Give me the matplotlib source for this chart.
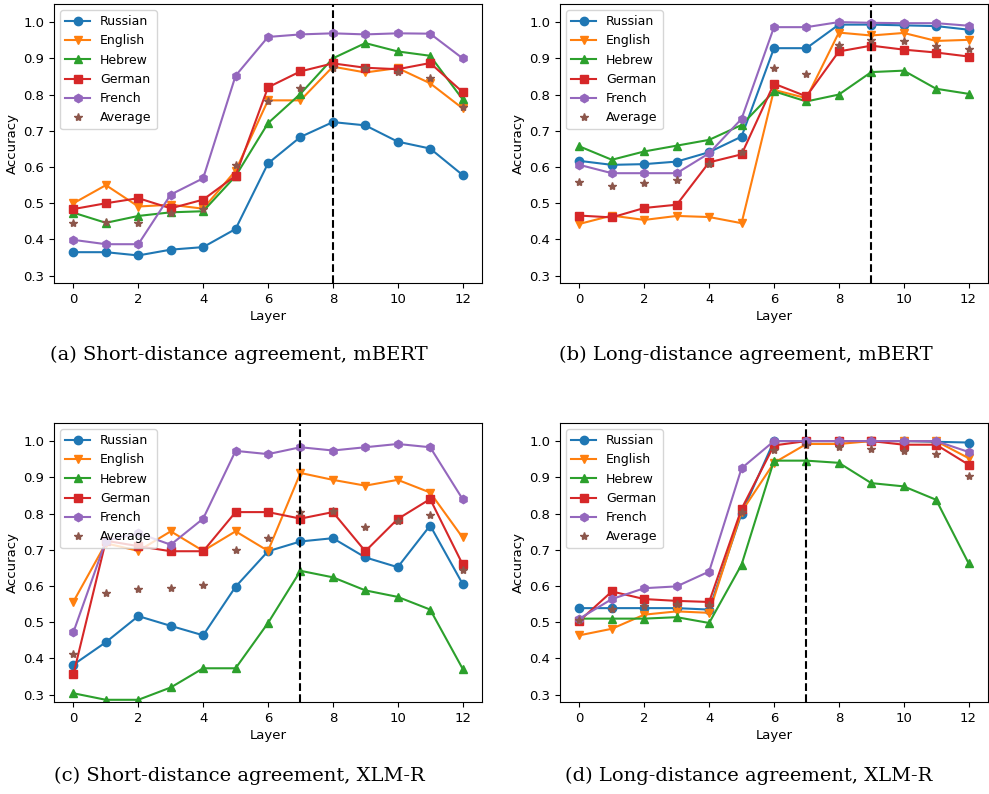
import matplotlib
matplotlib.use("Agg")
import matplotlib.pyplot as plt
import numpy as np

layers = np.arange(13)
languages = ['Russian', 'English', 'Hebrew', 'German', 'French']

# (a) short-distance agreement, mBERT
mbert_short_russian = [0.365, 0.365, 0.356, 0.372, 0.379, 0.429, 0.610, 0.683, 0.724, 0.715, 0.670, 0.651, 0.578]
mbert_short_english = [0.500, 0.550, 0.491, 0.496, 0.485, 0.590, 0.784, 0.784, 0.877, 0.861, 0.873, 0.831, 0.762]
mbert_short_hebrew = [0.474, 0.446, 0.465, 0.475, 0.478, 0.575, 0.721, 0.802, 0.900, 0.942, 0.919, 0.907, 0.787]
mbert_short_german = [0.484, 0.500, 0.514, 0.486, 0.510, 0.576, 0.820, 0.864, 0.886, 0.874, 0.870, 0.887, 0.807]
mbert_short_french = [0.399, 0.387, 0.387, 0.524, 0.569, 0.852, 0.959, 0.966, 0.969, 0.966, 0.969, 0.968, 0.900]
mbert_short_average = [0.445, 0.448, 0.445, 0.474, 0.485, 0.605, 0.781, 0.819, 0.873, 0.872, 0.863, 0.847, 0.767]

# (b) long-distance agreement, mBERT
mbert_long_russian = [0.617, 0.606, 0.608, 0.615, 0.641, 0.684, 0.928, 0.928, 0.993, 0.993, 0.991, 0.989, 0.979]
mbert_long_english = [0.443, 0.466, 0.454, 0.465, 0.462, 0.445, 0.813, 0.790, 0.971, 0.963, 0.970, 0.948, 0.951]
mbert_long_hebrew = [0.657, 0.620, 0.643, 0.659, 0.675, 0.716, 0.809, 0.781, 0.800, 0.862, 0.866, 0.816, 0.802]
mbert_long_german = [0.466, 0.461, 0.487, 0.496, 0.613, 0.635, 0.830, 0.795, 0.919, 0.935, 0.924, 0.916, 0.905]
mbert_long_french = [0.606, 0.583, 0.583, 0.583, 0.638, 0.733, 0.986, 0.986, 1.000, 0.998, 0.997, 0.997, 0.990]
mbert_long_average = [0.558, 0.548, 0.556, 0.563, 0.608, 0.642, 0.873, 0.857, 0.937, 0.951, 0.949, 0.935, 0.925]

# (c) short-distance agreement, XLM-R
xlmr_short_russian = [0.383, 0.445, 0.517, 0.490, 0.464, 0.598, 0.696, 0.723, 0.732, 0.679, 0.652, 0.767, 0.606]
xlmr_short_english = [0.557, 0.718, 0.697, 0.751, 0.697, 0.751, 0.697, 0.912, 0.893, 0.877, 0.893, 0.858, 0.734]
xlmr_short_hebrew = [0.304, 0.286, 0.286, 0.320, 0.373, 0.373, 0.498, 0.642, 0.624, 0.588, 0.570, 0.535, 0.372]
xlmr_short_german = [0.357, 0.725, 0.710, 0.696, 0.696, 0.804, 0.804, 0.786, 0.804, 0.696, 0.785, 0.840, 0.660]
xlmr_short_french = [0.473, 0.725, 0.746, 0.714, 0.786, 0.973, 0.964, 0.983, 0.974, 0.983, 0.992, 0.983, 0.840]
xlmr_short_average = [0.413, 0.580, 0.592, 0.594, 0.603, 0.700, 0.732, 0.804, 0.806, 0.764, 0.780, 0.797, 0.643]

# (d) long-distance agreement, XLM-R
xlmr_long_russian = [0.539, 0.539, 0.539, 0.539, 0.535, 0.800, 1.000, 1.000, 1.000, 1.000, 1.000, 0.998, 0.996]
xlmr_long_english = [0.464, 0.482, 0.521, 0.530, 0.526, 0.805, 0.940, 0.992, 0.992, 1.000, 1.000, 1.000, 0.953]
xlmr_long_hebrew = [0.510, 0.510, 0.510, 0.514, 0.498, 0.659, 0.946, 0.946, 0.940, 0.884, 0.875, 0.838, 0.663]
xlmr_long_german = [0.504, 0.585, 0.564, 0.559, 0.556, 0.813, 0.988, 1.000, 1.000, 1.000, 0.990, 0.990, 0.935]
xlmr_long_french = [0.510, 0.564, 0.594, 0.599, 0.640, 0.925, 1.000, 1.000, 1.000, 1.000, 1.000, 1.000, 0.970]
xlmr_long_average = [0.505, 0.536, 0.544, 0.550, 0.548, 0.805, 0.976, 0.988, 0.985, 0.978, 0.973, 0.964, 0.904]

# layer marked with the dashed line in each panel
best_layer = [8, 9, 7, 7]

captions = ['(a) Short-distance agreement, mBERT',
            '(b) Long-distance agreement, mBERT',
            '(c) Short-distance agreement, XLM-R',
            '(d) Long-distance agreement, XLM-R']

panels = [
    [mbert_short_russian, mbert_short_english, mbert_short_hebrew, mbert_short_german, mbert_short_french, mbert_short_average],
    [mbert_long_russian, mbert_long_english, mbert_long_hebrew, mbert_long_german, mbert_long_french, mbert_long_average],
    [xlmr_short_russian, xlmr_short_english, xlmr_short_hebrew, xlmr_short_german, xlmr_short_french, xlmr_short_average],
    [xlmr_long_russian, xlmr_long_english, xlmr_long_hebrew, xlmr_long_german, xlmr_long_french, xlmr_long_average],
]

colors = ['tab:blue', 'tab:orange', 'tab:green', 'tab:red', 'tab:purple']
markers = ['o', 'v', '^', 's', 'h']

plt.rcParams['font.size'] = 9.5

fig = plt.figure(figsize=(9.89, 7.94), dpi=100)

# axes boxes in figure fractions: left, bottom, width, height
boxes = [
    [0.0546, 0.6436, 0.4328, 0.3514],
    [0.5662, 0.6436, 0.4328, 0.3514],
    [0.0546, 0.1159, 0.4328, 0.3514],
    [0.5662, 0.1159, 0.4328, 0.3514],
]
caption_pos = [(0.242, 0.553), (0.754, 0.553), (0.242, 0.023), (0.757, 0.023)]

for i, series in enumerate(panels):
    ax = fig.add_axes(boxes[i])
    for j, lang in enumerate(languages):
        ax.plot(layers, series[j], marker=markers[j], color=colors[j], label=lang)
    ax.plot(layers, series[5], '*', color='tab:brown', label='Average')
    ax.axvline(best_layer[i], color='black', linestyle='--', linewidth=1.5)
    ax.set_ylim(0.28, 1.05)
    ax.set_xticks([0, 2, 4, 6, 8, 10, 12])
    ax.set_yticks([0.3, 0.4, 0.5, 0.6, 0.7, 0.8, 0.9, 1.0])
    ax.set_xlabel('Layer', labelpad=3)
    ax.set_ylabel('Accuracy', labelpad=3)
    ax.legend(loc='upper left', fontsize=9)
    fig.text(caption_pos[i][0], caption_pos[i][1], captions[i], ha='center', va='center',
             fontsize=14, family='DejaVu Serif')

plt.savefig('out.png', dpi=100)
